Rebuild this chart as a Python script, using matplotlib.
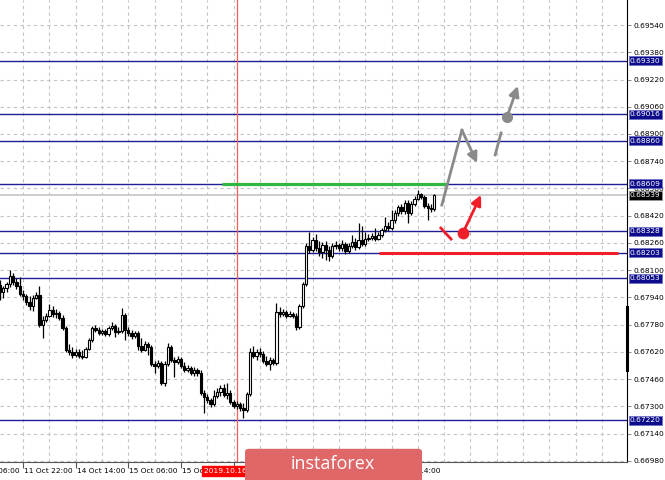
import numpy as np
import matplotlib.pyplot as plt
from matplotlib.patches import FancyBboxPatch, FancyArrowPatch
import matplotlib.transforms as mtransforms

# AUDUSD H1 candles (bar index 0 = 11 Oct 15:00)
first_open = 0.68013
closes = [0.67972, 0.67996, 0.68019, 0.68066, 0.68031, 0.68007, 0.67960, 0.67949, 0.67914, 0.67890,
          0.67937, 0.67955, 0.67778, 0.67808, 0.67831, 0.67866, 0.67843, 0.67849, 0.67819, 0.67761,
          0.67632, 0.67620, 0.67602, 0.67620, 0.67596, 0.67590, 0.67637, 0.67690, 0.67761, 0.67749,
          0.67731, 0.67743, 0.67725, 0.67761, 0.67772, 0.67737, 0.67743, 0.67837, 0.67749, 0.67731,
          0.67714, 0.67731, 0.67655, 0.67632, 0.67667, 0.67649, 0.67549, 0.67538, 0.67555, 0.67438,
          0.67549, 0.67649, 0.67573, 0.67561, 0.67579, 0.67538, 0.67514, 0.67526, 0.67496, 0.67514,
          0.67496, 0.67379, 0.67355, 0.67338, 0.67314, 0.67361, 0.67385, 0.67408, 0.67367, 0.67379,
          0.67326, 0.67303, 0.67314, 0.67291, 0.67279, 0.67373, 0.67620, 0.67596, 0.67620, 0.67608,
          0.67567, 0.67549, 0.67573, 0.67555, 0.67855, 0.67843, 0.67855, 0.67831, 0.67843, 0.67831,
          0.67767, 0.67890, 0.68019, 0.68242, 0.68219, 0.68277, 0.68231, 0.68207, 0.68248, 0.68219,
          0.68184, 0.68242, 0.68248, 0.68231, 0.68254, 0.68213, 0.68242, 0.68266, 0.68236, 0.68277,
          0.68254, 0.68283, 0.68289, 0.68301, 0.68283, 0.68307, 0.68336, 0.68360, 0.68348, 0.68395,
          0.68436, 0.68471, 0.68448, 0.68495, 0.68436, 0.68489, 0.68518, 0.68548, 0.68530, 0.68477,
          0.68465, 0.68460, 0.68539]
highs = [0.68043, 0.68007, 0.68031, 0.68101, 0.68084, 0.68054, 0.68060, 0.67984, 0.67960, 0.67949,
         0.67955, 0.67972, 0.68007, 0.67831, 0.67849, 0.67902, 0.67890, 0.67872, 0.67861, 0.67837,
         0.67772, 0.67667, 0.67649, 0.67637, 0.67637, 0.67632, 0.67649, 0.67702, 0.67772, 0.67778,
         0.67767, 0.67755, 0.67755, 0.67772, 0.67796, 0.67784, 0.67767, 0.67878, 0.67849, 0.67767,
         0.67749, 0.67743, 0.67743, 0.67702, 0.67684, 0.67678, 0.67661, 0.67567, 0.67573, 0.67567,
         0.67567, 0.67673, 0.67661, 0.67590, 0.67596, 0.67590, 0.67561, 0.67543, 0.67538, 0.67532,
         0.67526, 0.67514, 0.67397, 0.67373, 0.67350, 0.67397, 0.67408, 0.67426, 0.67432, 0.67438,
         0.67397, 0.67338, 0.67332, 0.67326, 0.67320, 0.67385, 0.67643, 0.67655, 0.67637, 0.67643,
         0.67626, 0.67596, 0.67590, 0.67585, 0.67908, 0.67884, 0.67872, 0.67866, 0.67861, 0.67855,
         0.67849, 0.67902, 0.68031, 0.68260, 0.68324, 0.68295, 0.68313, 0.68272, 0.68266, 0.68272,
         0.68242, 0.68260, 0.68272, 0.68260, 0.68277, 0.68266, 0.68260, 0.68307, 0.68289, 0.68377,
         0.68360, 0.68324, 0.68313, 0.68319, 0.68348, 0.68324, 0.68348, 0.68413, 0.68383, 0.68454,
         0.68454, 0.68483, 0.68489, 0.68512, 0.68512, 0.68507, 0.68536, 0.68571, 0.68554, 0.68542,
         0.68495, 0.68489, 0.68545]
lows = [0.67925, 0.67937, 0.67972, 0.68002, 0.68013, 0.67990, 0.67949, 0.67925, 0.67896, 0.67866,
        0.67861, 0.67931, 0.67767, 0.67702, 0.67796, 0.67825, 0.67825, 0.67819, 0.67808, 0.67749,
        0.67620, 0.67602, 0.67585, 0.67590, 0.67585, 0.67579, 0.67585, 0.67632, 0.67678, 0.67737,
        0.67720, 0.67720, 0.67714, 0.67714, 0.67749, 0.67708, 0.67725, 0.67731, 0.67690, 0.67714,
        0.67696, 0.67702, 0.67632, 0.67620, 0.67626, 0.67602, 0.67538, 0.67496, 0.67526, 0.67426,
        0.67420, 0.67538, 0.67561, 0.67473, 0.67549, 0.67526, 0.67502, 0.67502, 0.67485, 0.67479,
        0.67479, 0.67367, 0.67262, 0.67320, 0.67297, 0.67303, 0.67350, 0.67361, 0.67355, 0.67344,
        0.67314, 0.67291, 0.67285, 0.67273, 0.67232, 0.67267, 0.67361, 0.67585, 0.67573, 0.67590,
        0.67555, 0.67538, 0.67514, 0.67543, 0.67543, 0.67825, 0.67831, 0.67819, 0.67825, 0.67819,
        0.67749, 0.67755, 0.67878, 0.68007, 0.68201, 0.68207, 0.68213, 0.68184, 0.68172, 0.68160,
        0.68154, 0.68172, 0.68225, 0.68213, 0.68213, 0.68195, 0.68201, 0.68231, 0.68219, 0.68225,
        0.68242, 0.68242, 0.68272, 0.68277, 0.68272, 0.68277, 0.68295, 0.68324, 0.68330, 0.68336,
        0.68377, 0.68418, 0.68430, 0.68430, 0.68377, 0.68424, 0.68477, 0.68512, 0.68518, 0.68465,
        0.68395, 0.68442, 0.68448]

levels = [0.69330, 0.69016, 0.68860, 0.68609, 0.68328, 0.68203, 0.68053, 0.67220]
current_price = 0.68539
price_ticks = [0.66980, 0.67140, 0.67300, 0.67460, 0.67620, 0.67780, 0.67940, 0.68100,
               0.68260, 0.68420, 0.68580, 0.68740, 0.68900, 0.69060, 0.69220, 0.69380, 0.69540]
time_pos = [-9, 7, 23, 39, 55, 71, 87, 103, 119]
time_labels = ["11 Oct 06:00", "11 Oct 22:00", "14 Oct 14:00", "15 Oct 06:00", "15 Oct 22:00",
               "16 Oct 14:00", "17 Oct 06:00", "17 Oct 22:00", "18 Oct 14:00"]
cursor_bar = 72
cursor_label = "2019.10.16 15:00"

# forecast drawings (bar index, price)
green_line = ([67.5, 135.9], 0.68609)
red_line = ([115.2, 187.8], 0.68203)
gray_path = ([134.3, 140.4, 145.0], [0.68483, 0.68923, 0.68730])
gray_dash = ([150.5, 152.3], [0.68777, 0.68906])
gray_dot = (154.1, 0.69000)
gray_arrow_end = (157.4, 0.69182)
red_dash = ([134.0, 137.1], [0.68348, 0.68283])
red_dot = (140.7, 0.68319)
red_arrow_end = (146.2, 0.68542)

FONT = "DejaVu Sans"
FS = 5.4
BLUE = "#1e1e96"
GRAY = "#8a8a8a"
RED = "#f01e28"

fig = plt.figure(figsize=(6.65, 4.8), dpi=100)
ax = fig.add_axes([0, 18 / 480, 627 / 665, 462 / 480])
ax.set_xlim(0, 627 / 3.29)
ax.set_ylim(0.669741, 0.696868)

# grid
for gx in range(7, 191, 8):
    ax.axvline(gx, color="#c4c4c4", lw=0.8, ls=(0, (3, 3)), zorder=0)
for gy in price_ticks:
    ax.axhline(gy, color="#c4c4c4", lw=0.8, ls=(0, (3, 3)), zorder=0)

# candles
c = np.array(closes)
h = np.array(highs)
l = np.array(lows)
o = np.array([first_open] + closes[:-1])
x = np.arange(len(c))
up = c >= o
ax.vlines(x, l, h, color="black", lw=0.9, zorder=3)
ax.bar(x[up], (c - o)[up], bottom=o[up], width=0.7, color="white",
       edgecolor="black", lw=0.8, zorder=4)
ax.bar(x[~up], (c - o)[~up], bottom=o[~up], width=0.7, color="black",
       edgecolor="black", lw=0.8, zorder=4)

# level lines
ax.axhline(current_price, color="#c8c8c8", lw=1.3, zorder=1)
for v in levels:
    ax.axhline(v, color=BLUE, lw=1.0, zorder=2)
ax.axvline(cursor_bar, color="#ff5a5a", lw=0.9, zorder=2)

ax.plot(green_line[0], [green_line[1]] * 2, color="#2fb83f", lw=2.3, zorder=5,
        solid_capstyle="butt")
ax.plot(red_line[0], [red_line[1]] * 2, color=RED, lw=2.2, zorder=5,
        solid_capstyle="butt")

ax.plot(gray_path[0][:2], gray_path[1][:2], color=GRAY, lw=2.0, zorder=6)
ax.add_patch(FancyArrowPatch((gray_path[0][1], gray_path[1][1]), (gray_path[0][2], gray_path[1][2]),
                             arrowstyle="-|>", mutation_scale=15, color=GRAY, lw=2.0,
                             shrinkA=0, shrinkB=0, zorder=6))
ax.plot(gray_dash[0], gray_dash[1], color=GRAY, lw=2.0, zorder=6)
ax.add_patch(FancyArrowPatch(gray_dot, gray_arrow_end, arrowstyle="-|>", mutation_scale=15,
                             color=GRAY, lw=2.0, shrinkA=0, shrinkB=0, zorder=6))
ax.plot(*gray_dot, "o", color=GRAY, ms=7, zorder=7)
ax.plot(red_dash[0], red_dash[1], color=RED, lw=2.0, zorder=6)
ax.add_patch(FancyArrowPatch(red_dot, red_arrow_end, arrowstyle="-|>", mutation_scale=15,
                             color=RED, lw=2.0, shrinkA=0, shrinkB=0, zorder=6))
ax.plot(*red_dot, "o", color=RED, ms=7.5, zorder=7)

# axes styling
for s in ["left", "top"]:
    ax.spines[s].set_visible(False)
ax.spines["right"].set_color("black")
ax.spines["bottom"].set_color("#555555")
ax.yaxis.tick_right()
ax.set_yticks(price_ticks)
ax.set_yticklabels([f"{t:.5f}" for t in price_ticks], fontsize=FS, family=FONT)
ax.tick_params(axis="y", length=3, width=0.6, color="#777777", pad=2)
ax.set_xticks([p for p in time_pos if p >= 0])
ax.set_xticklabels([])
ax.tick_params(axis="x", length=4, width=0.8, color="#555555")

tb = mtransforms.blended_transform_factory(ax.transData, ax.transAxes)
for p, lab in zip(time_pos, time_labels):
    ax.text(p + 0.3, -0.0195, lab, transform=tb, ha="left", va="center",
            fontsize=FS, family=FONT, clip_on=False)
ax.text(cursor_bar, -0.0195, cursor_label, transform=tb, ha="center", va="center",
        fontsize=FS, family=FONT, color="white", clip_on=False, zorder=10,
        bbox=dict(boxstyle="square,pad=0.25", fc="#ff0000", ec="#ff0000"))

# right axis boxed labels
for v in levels:
    ax.annotate(f"{v:.5f}", xy=(1, v), xycoords=("axes fraction", "data"),
                xytext=(3, 0), textcoords="offset pixels", ha="left", va="center",
                fontsize=FS, family=FONT, color="white", annotation_clip=False, zorder=10,
                bbox=dict(boxstyle="square,pad=0.2", fc="#0c0c8a", ec="#7070c8", lw=0.6))
ax.annotate(f"{current_price:.5f}", xy=(1, current_price), xycoords=("axes fraction", "data"),
            xytext=(3, 0), textcoords="offset pixels", ha="left", va="center",
            fontsize=FS, family=FONT, color="white", annotation_clip=False, zorder=10,
            bbox=dict(boxstyle="square,pad=0.2", fc="black", ec="#999999", lw=0.6))

# thick mark on price scale
ax.plot([1, 1], [0.199, 0.3355], transform=ax.transAxes, color="black", lw=2.2,
        clip_on=False, zorder=9)

# watermark
fig.patches.append(FancyBboxPatch((245 / 665, -0.01), 177 / 665, 0.075,
                                  boxstyle="round,pad=0,rounding_size=0.006",
                                  transform=fig.transFigure, fc="#e06767", ec="none", zorder=20))
fig.text(333 / 665, 16 / 480, "instaforex", color="white", fontsize=13, family="Open Sans",
         ha="center", va="center", zorder=21)

fig.savefig("out.png", dpi=100, facecolor="white")
